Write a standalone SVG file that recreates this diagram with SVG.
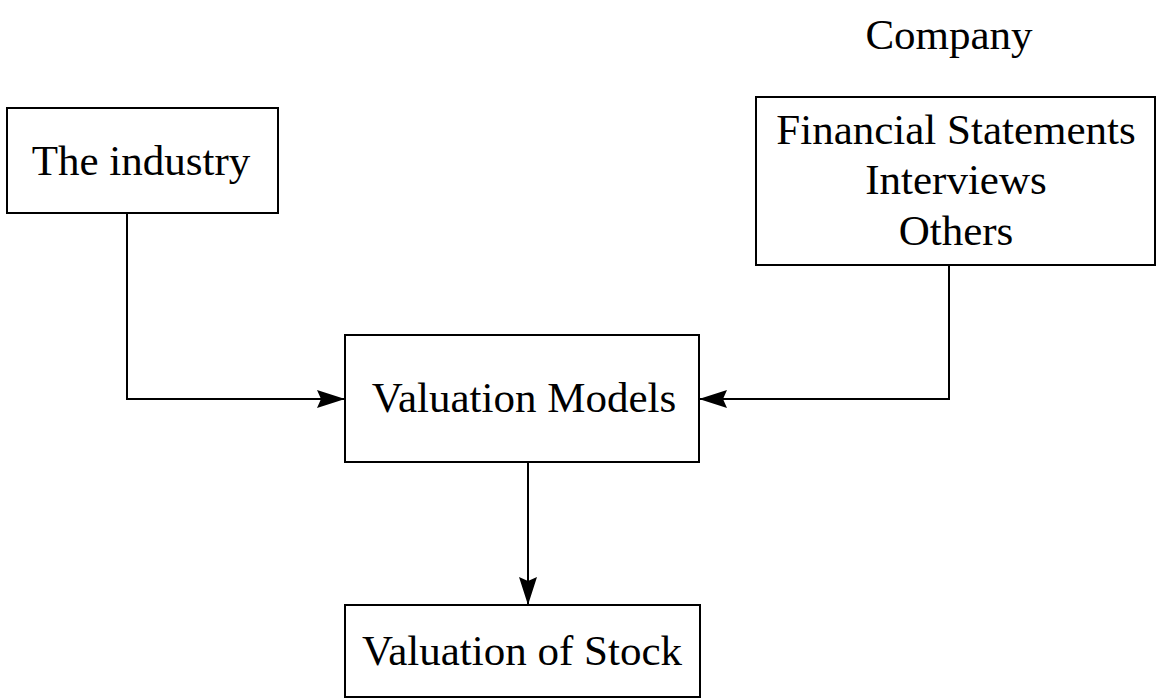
<svg xmlns="http://www.w3.org/2000/svg" width="1157" height="699" viewBox="0 0 1157 699">
<style>
.box{fill:#fff;stroke:#000;stroke-width:2}
.lbl{font-family:"Liberation Serif","Times New Roman",serif;font-size:43px;fill:#000;text-anchor:middle}
.conn{fill:none;stroke:#000;stroke-width:2}
</style>
<defs>
<marker id="arr" markerUnits="userSpaceOnUse" markerWidth="30" markerHeight="20" refX="28" refY="9" orient="auto">
<path d="M0,0 L28,9 L0,18 L4,9 z" fill="#000"/>
</marker>
</defs>
<rect width="1157" height="699" fill="#fff"/>
<g id="company-label"><text class="lbl" x="949" y="49">Company</text></g>
<g id="industry"><rect class="box" x="7" y="108" width="271" height="105"/><text class="lbl" x="141" y="175">The industry</text></g>
<g id="company"><rect class="box" x="756" y="97" width="399" height="168"/><text class="lbl" x="956" y="144">Financial Statements</text><text class="lbl" x="956" y="194">Interviews</text><text class="lbl" x="956" y="245">Others</text></g>
<g id="models"><rect class="box" x="345" y="335" width="354" height="127"/><text class="lbl" x="524" y="412">Valuation Models</text></g>
<g id="stock"><rect class="box" x="345" y="605" width="355" height="92"/><text class="lbl" x="522" y="665">Valuation of Stock</text></g>
<g id="connectors">
<path class="conn" d="M127,213 V399 H345" marker-end="url(#arr)"/>
<path class="conn" d="M949,265 V399 H699" marker-end="url(#arr)"/>
<path class="conn" d="M528,462 V605" marker-end="url(#arr)"/>
</g>
</svg>
